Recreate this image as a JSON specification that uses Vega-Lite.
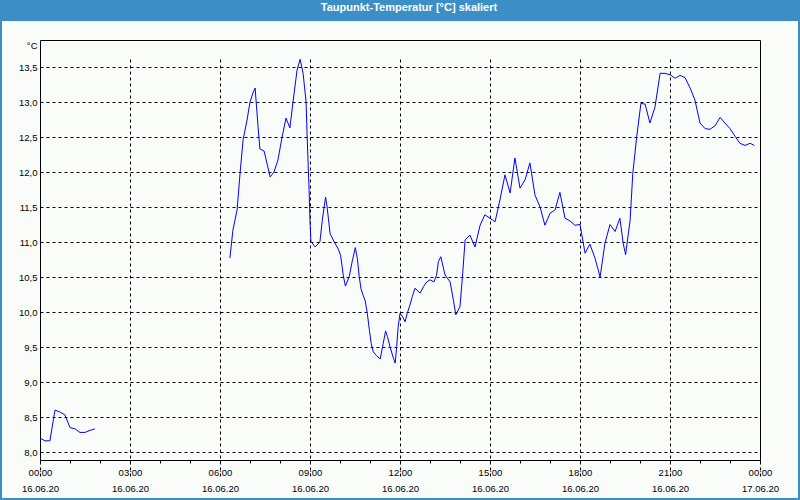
{
  "$schema": "https://vega.github.io/schema/vega-lite/v6.json",
  "width": 796,
  "height": 477,
  "autosize": {"type": "none"},
  "padding": {"top": 21, "left": 2, "right": 2, "bottom": 2},
  "background": "#3c8fc6",
  "title": {"text": "Taupunkt-Temperatur [°C] skaliert", "color": "#ffffff", "font": "Liberation Sans", "fontSize": 11, "fontWeight": "bold", "anchor": "middle", "frame": "group", "offset": 8, "dx": 9, "dy": 9, "baseline": "alphabetic"},
  "data": {"values": [
    {"seg":"a","h":0,"v":8.20},{"seg":"a","h":0.17,"v":8.16},{"seg":"a","h":0.33,"v":8.16},{"seg":"a","h":0.5,"v":8.60},{"seg":"a","h":0.67,"v":8.57},{"seg":"a","h":0.83,"v":8.53},{"seg":"a","h":1.0,"v":8.35},{"seg":"a","h":1.17,"v":8.33},{"seg":"a","h":1.33,"v":8.28},{"seg":"a","h":1.5,"v":8.28},{"seg":"a","h":1.67,"v":8.31},{"seg":"a","h":1.83,"v":8.33},
    {"seg":"b","h":6.33,"v":10.77},{"seg":"b","h":6.43,"v":11.17},{"seg":"b","h":6.57,"v":11.46},{"seg":"b","h":6.67,"v":11.99},{"seg":"b","h":6.77,"v":12.46},{"seg":"b","h":6.9,"v":12.74},{"seg":"b","h":7.0,"v":13.00},{"seg":"b","h":7.1,"v":13.13},{"seg":"b","h":7.17,"v":13.20},{"seg":"b","h":7.27,"v":12.64},{"seg":"b","h":7.33,"v":12.33},{"seg":"b","h":7.47,"v":12.30},{"seg":"b","h":7.67,"v":11.93},{"seg":"b","h":7.8,"v":12.00},{"seg":"b","h":7.93,"v":12.17},{"seg":"b","h":8.07,"v":12.50},{"seg":"b","h":8.2,"v":12.77},{"seg":"b","h":8.33,"v":12.63},{"seg":"b","h":8.43,"v":12.99},{"seg":"b","h":8.57,"v":13.46},{"seg":"b","h":8.67,"v":13.61},{"seg":"b","h":8.77,"v":13.41},{"seg":"b","h":8.87,"v":13.00},{"seg":"b","h":8.9,"v":12.56},{"seg":"b","h":8.97,"v":11.74},{"seg":"b","h":9.0,"v":11.29},{"seg":"b","h":9.03,"v":11.01},{"seg":"b","h":9.17,"v":10.93},{"seg":"b","h":9.33,"v":11.00},{"seg":"b","h":9.41,"v":11.31},{"seg":"b","h":9.48,"v":11.53},{"seg":"b","h":9.52,"v":11.64},{"seg":"b","h":9.57,"v":11.50},{"seg":"b","h":9.67,"v":11.12},{"seg":"b","h":9.81,"v":11.00},{"seg":"b","h":9.94,"v":10.90},{"seg":"b","h":10.02,"v":10.81},{"seg":"b","h":10.11,"v":10.52},{"seg":"b","h":10.18,"v":10.37},{"seg":"b","h":10.31,"v":10.51},{"seg":"b","h":10.41,"v":10.73},{"seg":"b","h":10.51,"v":10.92},{"seg":"b","h":10.58,"v":10.76},{"seg":"b","h":10.64,"v":10.51},{"seg":"b","h":10.7,"v":10.33},{"seg":"b","h":10.78,"v":10.23},{"seg":"b","h":10.84,"v":10.16},{"seg":"b","h":10.91,"v":9.98},{"seg":"b","h":10.98,"v":9.74},{"seg":"b","h":11.04,"v":9.55},{"seg":"b","h":11.11,"v":9.43},{"seg":"b","h":11.21,"v":9.38},{"seg":"b","h":11.34,"v":9.33},{"seg":"b","h":11.44,"v":9.55},{"seg":"b","h":11.52,"v":9.73},{"seg":"b","h":11.58,"v":9.65},{"seg":"b","h":11.67,"v":9.50},{"seg":"b","h":11.78,"v":9.34},{"seg":"b","h":11.84,"v":9.27},{"seg":"b","h":11.89,"v":9.51},{"seg":"b","h":11.94,"v":9.79},{"seg":"b","h":12.0,"v":9.98},{"seg":"b","h":12.09,"v":9.93},{"seg":"b","h":12.17,"v":9.86},{"seg":"b","h":12.24,"v":9.98},{"seg":"b","h":12.33,"v":10.10},{"seg":"b","h":12.41,"v":10.22},{"seg":"b","h":12.5,"v":10.34},{"seg":"b","h":12.67,"v":10.27},{"seg":"b","h":12.78,"v":10.36},{"seg":"b","h":12.89,"v":10.43},{"seg":"b","h":13.0,"v":10.46},{"seg":"b","h":13.13,"v":10.43},{"seg":"b","h":13.22,"v":10.53},{"seg":"b","h":13.28,"v":10.72},{"seg":"b","h":13.36,"v":10.79},{"seg":"b","h":13.5,"v":10.53},{"seg":"b","h":13.67,"v":10.43},{"seg":"b","h":13.78,"v":10.17},{"seg":"b","h":13.86,"v":9.96},{"seg":"b","h":14.0,"v":10.08},{"seg":"b","h":14.09,"v":10.55},{"seg":"b","h":14.17,"v":11.03},{"seg":"b","h":14.33,"v":11.10},{"seg":"b","h":14.5,"v":10.93},{"seg":"b","h":14.67,"v":11.24},{"seg":"b","h":14.83,"v":11.39},{"seg":"b","h":15.0,"v":11.34},{"seg":"b","h":15.17,"v":11.29},{"seg":"b","h":15.33,"v":11.60},{"seg":"b","h":15.5,"v":11.96},{"seg":"b","h":15.67,"v":11.70},{"seg":"b","h":15.83,"v":12.20},{"seg":"b","h":16.0,"v":11.77},{"seg":"b","h":16.17,"v":11.89},{"seg":"b","h":16.33,"v":12.13},{"seg":"b","h":16.5,"v":11.67},{"seg":"b","h":16.67,"v":11.50},{"seg":"b","h":16.83,"v":11.24},{"seg":"b","h":17.0,"v":11.41},{"seg":"b","h":17.17,"v":11.46},{"seg":"b","h":17.33,"v":11.71},{"seg":"b","h":17.5,"v":11.34},{"seg":"b","h":17.67,"v":11.30},{"seg":"b","h":17.83,"v":11.24},{"seg":"b","h":18.0,"v":11.25},{"seg":"b","h":18.17,"v":10.84},{"seg":"b","h":18.33,"v":10.97},{"seg":"b","h":18.5,"v":10.77},{"seg":"b","h":18.67,"v":10.50},{"seg":"b","h":18.83,"v":10.98},{"seg":"b","h":19.0,"v":11.25},{"seg":"b","h":19.17,"v":11.15},{"seg":"b","h":19.33,"v":11.34},{"seg":"b","h":19.44,"v":10.98},{"seg":"b","h":19.52,"v":10.82},{"seg":"b","h":19.67,"v":11.31},{"seg":"b","h":19.76,"v":11.98},{"seg":"b","h":19.89,"v":12.50},{"seg":"b","h":20.03,"v":12.98},{"seg":"b","h":20.17,"v":12.97},{"seg":"b","h":20.33,"v":12.70},{"seg":"b","h":20.5,"v":12.93},{"seg":"b","h":20.67,"v":13.41},{"seg":"b","h":20.83,"v":13.41},{"seg":"b","h":21.0,"v":13.39},{"seg":"b","h":21.17,"v":13.34},{"seg":"b","h":21.33,"v":13.38},{"seg":"b","h":21.5,"v":13.35},{"seg":"b","h":21.67,"v":13.20},{"seg":"b","h":21.83,"v":13.03},{"seg":"b","h":22.0,"v":12.70},{"seg":"b","h":22.17,"v":12.62},{"seg":"b","h":22.33,"v":12.61},{"seg":"b","h":22.5,"v":12.66},{"seg":"b","h":22.67,"v":12.78},{"seg":"b","h":22.83,"v":12.70},{"seg":"b","h":23.0,"v":12.62},{"seg":"b","h":23.17,"v":12.51},{"seg":"b","h":23.33,"v":12.41},{"seg":"b","h":23.5,"v":12.38},{"seg":"b","h":23.67,"v":12.41},{"seg":"b","h":23.81,"v":12.38}
  ]},
  "layer": [
    {
      "mark": {"type": "line", "color": "#0000ff", "strokeWidth": 1},
      "encoding": {
        "x": {"field": "h", "type": "quantitative",
          "scale": {"domain": [0, 24], "range": [38, 758], "nice": false, "zero": false},
          "axis": {"orient": "bottom", "offset": -38, "title": null,
            "values": [0,1,2,3,4,5,6,7,8,9,10,11,12,13,14,15,16,17,18,19,20,21,22,23,24],
            "domainColor": "#000000", "domainWidth": 1,
            "tickColor": "#000000", "tickSize": 3, "tickWidth": 1,
            "labelFont": "Liberation Sans", "labelFontSize": 9.5, "labelColor": "#000000",
            "labelPadding": 4, "labelLineHeight": 16, "labelOverlap": false, "labelFlush": false, "labelBound": false,
            "labelExpr": "datum.value % 3 !== 0 ? '' : [((datum.value % 24) < 10 ? '0' : '') + (datum.value % 24) + ':00', datum.value === 24 ? '17.06.20' : '16.06.20']",
            "grid": true, "gridColor": "#000000", "gridDash": [3, 3], "gridWidth": 1,
            "gridOpacity": {"condition": {"test": "datum.value % 3 === 0", "value": 1}, "value": 0},
            "zindex": 0}},
        "y": {"field": "v", "type": "quantitative",
          "scale": {"domain": [7.886, 13.886], "range": [439, 19], "nice": false, "zero": false},
          "axis": {"orient": "left", "offset": -38,
            "values": [8, 8.5, 9, 9.5, 10, 10.5, 11, 11.5, 12, 12.5, 13, 13.5],
            "title": "°C", "titleAngle": 0, "titleAlign": "right", "titleBaseline": "middle",
            "titleX": -3, "titleY": 24, "titleFont": "Liberation Sans", "titleFontSize": 9.5, "titleFontWeight": "normal", "titleColor": "#000000",
            "domainColor": "#000000", "domainWidth": 1, "ticks": false,
            "labelFont": "Liberation Sans", "labelFontSize": 9.5, "labelColor": "#000000", "labelPadding": 3,
            "labelExpr": "replace(format(datum.value, '.1f'), '.', ',')",
            "grid": true, "gridColor": "#000000", "gridDash": [3, 3], "gridWidth": 1, "zindex": 0}},
        "detail": {"field": "seg", "type": "nominal"}
      }
    },
    {
      "mark": {"type": "line", "strokeOpacity": 0},
      "encoding": {
        "x": {"field": "h", "type": "quantitative",
          "axis": {"orient": "top", "offset": -19, "title": null, "labels": false, "ticks": false, "grid": false, "domainColor": "#000000", "domainWidth": 1}},
        "y": {"field": "v", "type": "quantitative",
          "axis": {"orient": "right", "offset": -38, "title": null, "labels": false, "ticks": false, "grid": false, "domainColor": "#000000", "domainWidth": 1}},
        "detail": {"field": "seg", "type": "nominal"}
      }
    }
  ],
  "resolve": {"axis": {"x": "independent", "y": "independent"}},
  "config": {"view": {"fill": "#f9fcf9", "stroke": null}}
}
